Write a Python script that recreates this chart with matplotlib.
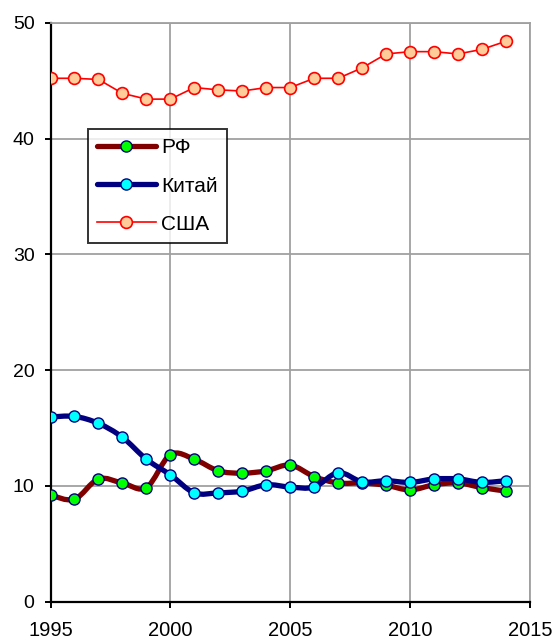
import matplotlib
matplotlib.use("Agg")
import matplotlib.pyplot as plt
import numpy as np
from matplotlib.path import Path
from matplotlib.patches import PathPatch
from matplotlib.lines import Line2D

plt.rcParams['font.family'] = ['Liberation Sans', 'DejaVu Sans']

years = list(range(1995, 2015))
rf = [9.2, 8.85, 10.6, 10.25, 9.85, 12.7, 12.3, 11.3, 11.1, 11.3,
      11.8, 10.8, 10.25, 10.25, 10.05, 9.65, 10.1, 10.25, 9.85, 9.55]
china = [15.95, 16.0, 15.4, 14.2, 12.3, 10.95, 9.4, 9.4, 9.55, 10.1,
         9.9, 9.9, 11.15, 10.35, 10.45, 10.3, 10.6, 10.6, 10.3, 10.45]
usa = [45.2, 45.2, 45.1, 43.9, 43.4, 43.4, 44.4, 44.2, 44.1, 44.4,
       44.4, 45.2, 45.2, 46.1, 47.3, 47.5, 47.5, 47.3, 47.7, 48.4]
labels = ['РФ', 'Китай', 'США']


def smooth_path(x, y):
    # Excel-style smoothed line: cubic Bezier with Catmull-Rom control points
    p = np.column_stack([x, y]).astype(float)
    verts = [p[0]]
    codes = [Path.MOVETO]
    n = len(p)
    for i in range(n - 1):
        p0 = p[i - 1] if i > 0 else p[i]
        p3 = p[i + 2] if i + 2 < n else p[i + 1]
        c1 = p[i] + (p[i + 1] - p0) / 6
        c2 = p[i + 1] - (p3 - p[i]) / 6
        verts += [c1, c2, p[i + 1]]
        codes += [Path.CURVE4] * 3
    return Path(verts, codes)


fig = plt.figure(figsize=(5.55, 6.41), dpi=100)
ax = fig.add_axes([50.5 / 555, 39.3 / 641, 479.5 / 555, 579 / 641])

grid_c = '#a0a0a0'
ax.set_xlim(1995, 2015)
ax.set_ylim(0, 50)
ax.set_xticks([1995, 2000, 2005, 2010, 2015])
ax.set_yticks([0, 10, 20, 30, 40, 50])
ax.grid(True, color=grid_c, lw=1.3)
ax.set_axisbelow(True)

styles = [
    (rf, '#800000', '#00ff00', '#000080', 3.8),
    (china, '#000080', '#00ffff', '#000080', 3.8),
]
handles = []
for (vals, lc, fc, ec, lw), lab in zip(styles, labels[:2]):
    ax.add_patch(PathPatch(smooth_path(years, vals), fill=False, ec=lc, lw=lw,
                           capstyle='round', joinstyle='round', zorder=3))
    ax.plot(years, vals, ls='none', marker='o', ms=8, mfc=fc, mec=ec, mew=1.0,
            zorder=4)
    handles.append(Line2D([], [], color=lc, lw=lw, marker='o', ms=8, mfc=fc,
                          mec=ec, mew=1.0, solid_capstyle='round'))

ax.plot(years, usa, color='#ff0000', lw=1.2, marker='o', ms=8.5,
        mfc='#ffcc99', mec='#ff0000', mew=1.2, zorder=4)
handles.append(Line2D([], [], color='#ff0000', lw=1.2, marker='o', ms=8.5,
                      mfc='#ffcc99', mec='#ff0000', mew=1.2))

for s in ['left', 'bottom']:
    ax.spines[s].set_color('black')
    ax.spines[s].set_linewidth(1.6)
for s in ['top', 'right']:
    ax.spines[s].set_color(grid_c)
    ax.spines[s].set_linewidth(1.3)

ax.tick_params(direction='out', length=4.5, width=1.4)
ax.tick_params(axis='x', labelsize=14.5, pad=9.5)
ax.tick_params(axis='y', labelsize=14, pad=7)

leg = ax.legend(handles, labels, loc='upper left', bbox_to_anchor=(0.078, 0.8164),
                fontsize=15, frameon=True, fancybox=False, handlelength=2.8,
                handletextpad=0.25, borderpad=0.45, labelspacing=0.92,
                borderaxespad=0)
leg.get_frame().set_edgecolor('black')
leg.get_frame().set_linewidth(1.4)
leg.set_zorder(10)

fig.savefig('out.png', dpi=100)
